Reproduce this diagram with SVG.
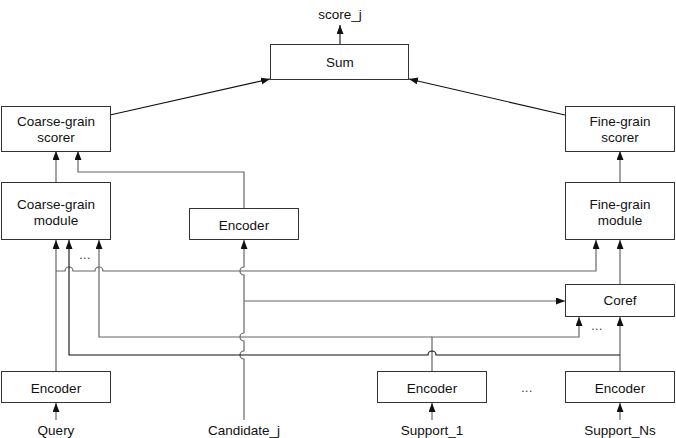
<svg xmlns="http://www.w3.org/2000/svg" width="676" height="438" viewBox="0 0 676 438">
<style>
  .box { fill: #ffffff; stroke: #333333; stroke-width: 1; }
  .t { font-family: "Liberation Sans", Arial, sans-serif; font-size: 13.5px; fill: #111111; text-anchor: middle; dominant-baseline: central; }
  .dots { font-family: "Liberation Sans", Arial, sans-serif; font-size: 12px; fill: #333333; text-anchor: middle; letter-spacing: 0.5px; }
  .ln { fill: none; stroke: #666666; stroke-width: 1.2; }
  .dk { fill: none; stroke: #111111; stroke-width: 1.1; }
  .arr { marker-end: url(#ah); }
</style>
<defs>
  <marker id="ah" markerUnits="userSpaceOnUse" markerWidth="10" markerHeight="8" refX="9" refY="3.5" orient="auto">
    <path d="M0,0 L9,3.5 L0,7 z" fill="#111111"/>
  </marker>
</defs>
<rect width="676" height="438" fill="#ffffff"/>

<g id="connectors">
  <path class="dk arr" d="M340,44 V25"/>
  <path class="dk arr" d="M110,115 L270,79"/>
  <path class="dk arr" d="M565,115 L409,79"/>
  <path class="ln arr" d="M56,182 V151"/>
  <path class="ln arr" d="M244,208 V172 H78 V151"/>
  <path class="ln arr" d="M620,182 V151"/>
  <path class="ln arr" d="M56,420 V403"/>
  <path class="ln arr" d="M56,371 V240"/>
  <path class="ln arr" d="M56,271 H65 a4,4 0 0 1 8,0 H95 a4,4 0 0 1 8,0 H596 V240"/>
  <path class="ln arr" d="M244,420 V359 a4,4 0 0 1 0,-8 V341 a4,4 0 0 1 0,-8 V275 a4,4 0 0 1 0,-8 V240"/>
  <path class="ln arr" d="M244,301 H565"/>
  <path class="ln arr" d="M432,420 V403"/>
  <path class="ln arr" d="M432,371 V337 H579 V317"/>
  <path class="ln arr" d="M432,337 H99 V240"/>
  <path class="ln arr" d="M620,420 V403"/>
  <path class="ln arr" d="M620,371 V317"/>
  <path class="dk arr" d="M620,355 H436 a4,4 0 0 0 -8,0 H69 V240"/>
  <path class="ln arr" d="M620,284 V240"/>
</g>

<g id="score_j"><text class="t" x="340" y="14">score_j</text></g>

<g id="sum">
  <rect class="box" x="270.5" y="44.5" width="138" height="35"/>
  <text class="t" x="340" y="62">Sum</text>
</g>

<g id="coarse_scorer">
  <rect class="box" x="1.5" y="106.5" width="109" height="45"/>
  <text class="t" x="56" y="121">Coarse-grain</text>
  <text class="t" x="56" y="137">scorer</text>
</g>

<g id="coarse_module">
  <rect class="box" x="1.5" y="182.5" width="109" height="57"/>
  <text class="t" x="56" y="204">Coarse-grain</text>
  <text class="t" x="56" y="220">module</text>
</g>

<g id="encoder_candidate">
  <rect class="box" x="189.5" y="208.5" width="109" height="31"/>
  <text class="t" x="244" y="225">Encoder</text>
</g>

<g id="fine_scorer">
  <rect class="box" x="565.5" y="106.5" width="109" height="45"/>
  <text class="t" x="620" y="121">Fine-grain</text>
  <text class="t" x="620" y="137">scorer</text>
</g>

<g id="fine_module">
  <rect class="box" x="565.5" y="182.5" width="109" height="57"/>
  <text class="t" x="620" y="204">Fine-grain</text>
  <text class="t" x="620" y="220">module</text>
</g>

<g id="coref">
  <rect class="box" x="565.5" y="284.5" width="109" height="32"/>
  <text class="t" x="620" y="300">Coref</text>
</g>

<g id="encoder_query">
  <rect class="box" x="1.5" y="371.5" width="109" height="31"/>
  <text class="t" x="56" y="388">Encoder</text>
</g>

<g id="encoder_support1">
  <rect class="box" x="377.5" y="371.5" width="109" height="31"/>
  <text class="t" x="432" y="388">Encoder</text>
</g>

<g id="encoder_supportNs">
  <rect class="box" x="565.5" y="371.5" width="109" height="31"/>
  <text class="t" x="620" y="388">Encoder</text>
</g>

<g id="labels">
  <text class="t" x="56" y="430">Query</text>
  <text class="t" x="244" y="430">Candidate_j</text>
  <text class="t" x="432" y="430">Support_1</text>
  <text class="t" x="620" y="430">Support_Ns</text>
  <text class="dots" x="85" y="259">...</text>
  <text class="dots" x="597" y="330">...</text>
  <text class="dots" x="527" y="392">...</text>
</g>
</svg>
